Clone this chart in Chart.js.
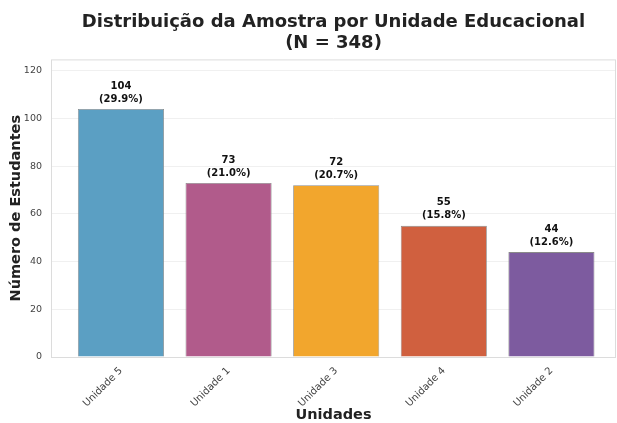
<!DOCTYPE html>
<html>
<head>
<meta charset="utf-8">
<script src="https://cdn.jsdelivr.net/npm/chart.js@4/dist/chart.umd.min.js"></script>
<style>
  html, body { margin: 0; padding: 0; background: #fff; }
  #wrap { width: 617px; height: 423px; }
</style>
</head>
<body>
<div id="wrap"><canvas id="chart"></canvas></div>
<script>
// data
const units = ['Unidade 5', 'Unidade 1', 'Unidade 3', 'Unidade 4', 'Unidade 2'];
const counts = [104, 73, 72, 55, 44];
const percents = ['29.9', '21.0', '20.7', '15.8', '12.6'];
const barColors = ['#5b9fc3', '#b15b8b', '#f2a62d', '#d0603f', '#7d5b9f'];
const yTicks = [0, 20, 40, 60, 80, 100, 120];
const total = 348;

const font = "'DejaVu Sans', sans-serif";

// labels above each bar: count + percent
const barLabels = {
    id: 'barLabels',
    afterDatasetsDraw(chart) {
        const ctx = chart.ctx;
        const meta = chart.getDatasetMeta(0);
        ctx.save();
        ctx.fillStyle = '#111';
        ctx.font = 'bold 10px ' + font;
        ctx.textAlign = 'center';
        ctx.textBaseline = 'middle';
        meta.data.forEach((bar, i) => {
            ctx.fillText(`(${percents[i]}%)`, bar.x, bar.y - 10);
            ctx.fillText(String(counts[i]), bar.x, bar.y - 23);
        });
        ctx.restore();
    }
};

// light frame round the plot area
const frame = {
    id: 'frame',
    afterDraw(chart) {
        const a = chart.chartArea;
        const ctx = chart.ctx;
        ctx.save();
        ctx.strokeStyle = '#dcdcdc';
        ctx.lineWidth = 1;
        ctx.strokeRect(a.left + 0.5, a.top + 0.5, a.right - a.left - 1, a.bottom - a.top);
        ctx.restore();
    }
};

new Chart(document.getElementById('chart'), {
    type: 'bar',
    data: {
        datasets: [{
            data: counts.map((v, i) => ({ x: i, y: v })),
            backgroundColor: barColors,
            borderColor: '#8a8a8a',
            borderWidth: 0.8,
            barPercentage: 0.8,
            categoryPercentage: 1
        }]
    },
    options: {
        responsive: true,
        maintainAspectRatio: false,
        animation: false,
        layout: { padding: { left: 0, right: 1, top: 5, bottom: 0 } },
        plugins: {
            legend: { display: false },
            tooltip: { enabled: false },
            title: {
                display: true,
                fullSize: false, // centred over the plot area, not the canvas
                text: ['Distribuição da Amostra por Unidade Educacional', `(N = ${total})`],
                color: '#222',
                font: { family: font, size: 18, weight: 'bold', lineHeight: 1.15 },
                padding: { top: 7, bottom: 6 }
            }
        },
        scales: {
            x: {
                type: 'linear',
                offset: false,
                min: -0.65,
                max: 4.6,
                afterBuildTicks: scale => {
                    scale.ticks = units.map((u, i) => ({ value: i }));
                },
                // fixed band under the plot; rotated first label sits in the x margin
                afterFit: scale => {
                    scale.paddingLeft = 0;
                    scale.paddingRight = 0;
                    scale.height = 66;
                },
                ticks: {
                    callback: v => units[v],
                    minRotation: 45,
                    maxRotation: 45,
                    color: '#444',
                    font: { family: font, size: 10 },
                    padding: 8
                },
                grid: { display: false, drawTicks: false, offset: false },
                border: { display: false },
                title: {
                    display: true,
                    text: 'Unidades',
                    color: '#222',
                    font: { family: font, size: 14.5, weight: 'bold' },
                    padding: { top: 0, bottom: -1 }
                }
            },
            y: {
                min: 0,
                max: 124.8,
                afterBuildTicks: scale => {
                    scale.ticks = yTicks.map(v => ({ value: v }));
                },
                afterFit: scale => {
                    scale.width = 51;
                },
                ticks: {
                    color: '#444',
                    font: { family: font, size: 9.5 },
                    padding: 9
                },
                grid: { color: '#f0f0f0', drawTicks: false },
                border: { display: false },
                title: {
                    display: true,
                    text: 'Número de Estudantes',
                    color: '#222',
                    font: { family: font, size: 14.5, weight: 'bold' },
                    padding: { top: 8, bottom: 0 }
                }
            }
        }
    },
    plugins: [barLabels, frame]
});
</script>
</body>
</html>
